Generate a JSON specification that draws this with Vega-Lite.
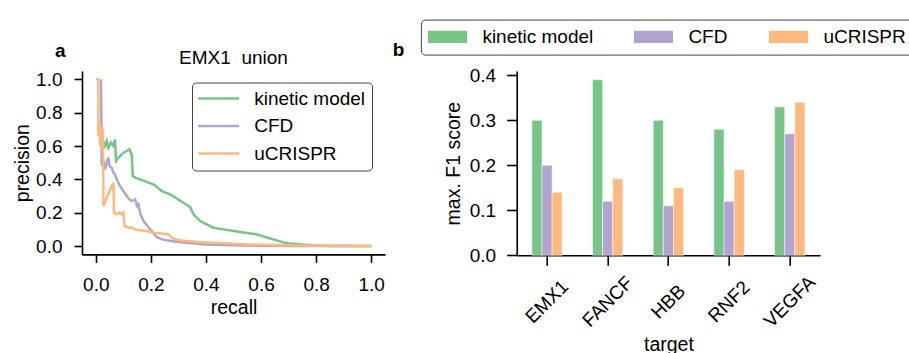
{
  "$schema": "https://vega.github.io/schema/vega-lite/v6.json",
  "padding": {"left": 12, "top": 19, "right": 0, "bottom": 0},
  "background": "white",
  "title": {"text": "a", "anchor": "start", "frame": "group", "dx": -27, "dy": 73, "fontSize": 19, "fontWeight": "bold", "offset": 16, "baseline": "alphabetic", "font": "Liberation Sans", "color": "black"},
  "config": {
    "font": "Liberation Sans",
    "view": {"stroke": null},
    "axis": {"domainColor": "black", "domainWidth": 1.6, "tickColor": "black", "tickWidth": 1.6, "labelColor": "black", "titleColor": "black", "labelFontSize": 19, "titleFontSize": 19.5, "titleFontWeight": "normal", "grid": false, "labelOverlap": false, "labelFont": "Liberation Sans", "titleFont": "Liberation Sans"},
    "axisY": {"labelOverlap": false},
    "legend": {"labelFont": "Liberation Sans", "labelFontSize": 19, "labelColor": "black"},
    "title": {"font": "Liberation Sans", "color": "black"}
  },
  "spacing": 131.7,
  "bounds": "flush",
  "resolve": {"scale": {"color": "independent"}, "legend": {"color": "independent"}},
  "hconcat": [
    {
      "width": 303,
      "height": 183.4,
      "title": {"text": "EMX1\u00a0\u00a0union", "fontSize": 19, "fontWeight": "normal", "anchor": "middle", "frame": "group", "offset": 8, "dy": 21, "baseline": "alphabetic"},
      "data": {"values": [
        {"model": "kinetic model", "recall": 0.0217, "precision": 0.50},
        {"model": "kinetic model", "recall": 0.0277, "precision": 0.63},
        {"model": "kinetic model", "recall": 0.0338, "precision": 0.60},
        {"model": "kinetic model", "recall": 0.0398, "precision": 0.63},
        {"model": "kinetic model", "recall": 0.0459, "precision": 0.59},
        {"model": "kinetic model", "recall": 0.0544, "precision": 0.62},
        {"model": "kinetic model", "recall": 0.064, "precision": 0.60},
        {"model": "kinetic model", "recall": 0.070, "precision": 0.64},
        {"model": "kinetic model", "recall": 0.0737, "precision": 0.50},
        {"model": "kinetic model", "recall": 0.0762, "precision": 0.52},
        {"model": "kinetic model", "recall": 0.0883, "precision": 0.54},
        {"model": "kinetic model", "recall": 0.1004, "precision": 0.56},
        {"model": "kinetic model", "recall": 0.1125, "precision": 0.57},
        {"model": "kinetic model", "recall": 0.122, "precision": 0.58},
        {"model": "kinetic model", "recall": 0.1307, "precision": 0.55},
        {"model": "kinetic model", "recall": 0.1343, "precision": 0.42},
        {"model": "kinetic model", "recall": 0.1428, "precision": 0.41},
        {"model": "kinetic model", "recall": 0.161, "precision": 0.40},
        {"model": "kinetic model", "recall": 0.185, "precision": 0.385},
        {"model": "kinetic model", "recall": 0.209, "precision": 0.37},
        {"model": "kinetic model", "recall": 0.2215, "precision": 0.355},
        {"model": "kinetic model", "recall": 0.2396, "precision": 0.33},
        {"model": "kinetic model", "recall": 0.27, "precision": 0.31},
        {"model": "kinetic model", "recall": 0.294, "precision": 0.285},
        {"model": "kinetic model", "recall": 0.318, "precision": 0.26},
        {"model": "kinetic model", "recall": 0.3425, "precision": 0.235},
        {"model": "kinetic model", "recall": 0.3547, "precision": 0.19},
        {"model": "kinetic model", "recall": 0.379, "precision": 0.15},
        {"model": "kinetic model", "recall": 0.403, "precision": 0.13},
        {"model": "kinetic model", "recall": 0.427, "precision": 0.11},
        {"model": "kinetic model", "recall": 0.4636, "precision": 0.10},
        {"model": "kinetic model", "recall": 0.524, "precision": 0.085},
        {"model": "kinetic model", "recall": 0.585, "precision": 0.07},
        {"model": "kinetic model", "recall": 0.633, "precision": 0.045},
        {"model": "kinetic model", "recall": 0.6816, "precision": 0.022},
        {"model": "kinetic model", "recall": 0.706, "precision": 0.015},
        {"model": "kinetic model", "recall": 0.75, "precision": 0.01},
        {"model": "kinetic model", "recall": 0.8, "precision": 0.004},
        {"model": "kinetic model", "recall": 0.85, "precision": 0.001},
        {"model": "kinetic model", "recall": 1.0, "precision": 0.0},
        {"model": "CFD", "recall": 0.019, "precision": 1.0},
        {"model": "CFD", "recall": 0.022, "precision": 0.48},
        {"model": "CFD", "recall": 0.028, "precision": 0.51},
        {"model": "CFD", "recall": 0.034, "precision": 0.46},
        {"model": "CFD", "recall": 0.04, "precision": 0.50},
        {"model": "CFD", "recall": 0.046, "precision": 0.53},
        {"model": "CFD", "recall": 0.05, "precision": 0.48},
        {"model": "CFD", "recall": 0.058, "precision": 0.47},
        {"model": "CFD", "recall": 0.064, "precision": 0.44},
        {"model": "CFD", "recall": 0.07, "precision": 0.43},
        {"model": "CFD", "recall": 0.076, "precision": 0.40},
        {"model": "CFD", "recall": 0.088, "precision": 0.36},
        {"model": "CFD", "recall": 0.1, "precision": 0.33},
        {"model": "CFD", "recall": 0.113, "precision": 0.30},
        {"model": "CFD", "recall": 0.122, "precision": 0.28},
        {"model": "CFD", "recall": 0.131, "precision": 0.27},
        {"model": "CFD", "recall": 0.143, "precision": 0.28},
        {"model": "CFD", "recall": 0.15, "precision": 0.24},
        {"model": "CFD", "recall": 0.155, "precision": 0.25},
        {"model": "CFD", "recall": 0.162, "precision": 0.19},
        {"model": "CFD", "recall": 0.174, "precision": 0.15},
        {"model": "CFD", "recall": 0.192, "precision": 0.11},
        {"model": "CFD", "recall": 0.204, "precision": 0.09},
        {"model": "CFD", "recall": 0.22, "precision": 0.055},
        {"model": "CFD", "recall": 0.24, "precision": 0.04},
        {"model": "CFD", "recall": 0.257, "precision": 0.035},
        {"model": "CFD", "recall": 0.3, "precision": 0.025},
        {"model": "CFD", "recall": 0.34, "precision": 0.018},
        {"model": "CFD", "recall": 0.4, "precision": 0.01},
        {"model": "CFD", "recall": 0.5, "precision": 0.005},
        {"model": "CFD", "recall": 0.6, "precision": 0.002},
        {"model": "CFD", "recall": 0.7, "precision": 0.001},
        {"model": "CFD", "recall": 0.85, "precision": 0.0},
        {"model": "CFD", "recall": 1.0, "precision": 0.0},
        {"model": "uCRISPR", "recall": 0.0, "precision": 1.0},
        {"model": "uCRISPR", "recall": 0.0095, "precision": 1.0},
        {"model": "uCRISPR", "recall": 0.0097, "precision": 0.66},
        {"model": "uCRISPR", "recall": 0.013, "precision": 0.75},
        {"model": "uCRISPR", "recall": 0.016, "precision": 0.60},
        {"model": "uCRISPR", "recall": 0.02, "precision": 0.72},
        {"model": "uCRISPR", "recall": 0.024, "precision": 0.64},
        {"model": "uCRISPR", "recall": 0.026, "precision": 0.70},
        {"model": "uCRISPR", "recall": 0.028, "precision": 0.24},
        {"model": "uCRISPR", "recall": 0.04, "precision": 0.29},
        {"model": "uCRISPR", "recall": 0.05, "precision": 0.33},
        {"model": "uCRISPR", "recall": 0.064, "precision": 0.38},
        {"model": "uCRISPR", "recall": 0.066, "precision": 0.20},
        {"model": "uCRISPR", "recall": 0.075, "precision": 0.19},
        {"model": "uCRISPR", "recall": 0.085, "precision": 0.20},
        {"model": "uCRISPR", "recall": 0.095, "precision": 0.19},
        {"model": "uCRISPR", "recall": 0.1, "precision": 0.20},
        {"model": "uCRISPR", "recall": 0.105, "precision": 0.12},
        {"model": "uCRISPR", "recall": 0.12, "precision": 0.11},
        {"model": "uCRISPR", "recall": 0.135, "precision": 0.11},
        {"model": "uCRISPR", "recall": 0.14, "precision": 0.10},
        {"model": "uCRISPR", "recall": 0.16, "precision": 0.095},
        {"model": "uCRISPR", "recall": 0.185, "precision": 0.09},
        {"model": "uCRISPR", "recall": 0.21, "precision": 0.08},
        {"model": "uCRISPR", "recall": 0.24, "precision": 0.075},
        {"model": "uCRISPR", "recall": 0.265, "precision": 0.07},
        {"model": "uCRISPR", "recall": 0.275, "precision": 0.05},
        {"model": "uCRISPR", "recall": 0.3, "precision": 0.035},
        {"model": "uCRISPR", "recall": 0.33, "precision": 0.03},
        {"model": "uCRISPR", "recall": 0.37, "precision": 0.025},
        {"model": "uCRISPR", "recall": 0.45, "precision": 0.018},
        {"model": "uCRISPR", "recall": 0.55, "precision": 0.01},
        {"model": "uCRISPR", "recall": 0.7, "precision": 0.005},
        {"model": "uCRISPR", "recall": 0.85, "precision": 0.002},
        {"model": "uCRISPR", "recall": 1.0, "precision": 0.0}
      ]},
      "mark": {"type": "line", "strokeWidth": 2.5},
      "encoding": {
        "x": {"field": "recall", "type": "quantitative", "scale": {"domain": [-0.05, 1.05], "nice": false, "zero": false},
              "axis": {"values": [0, 0.2, 0.4, 0.6, 0.8, 1.0], "format": ".1f", "tickSize": 8, "labelPadding": 13, "titlePadding": 4, "title": "recall", "labelFlush": false, "labelOverlap": false}},
        "y": {"field": "precision", "type": "quantitative", "scale": {"domain": [-0.05, 1.05], "nice": false, "zero": false},
              "axis": {"values": [0, 0.2, 0.4, 0.6, 0.8, 1.0], "format": ".1f", "tickSize": 8, "labelPadding": 12, "titlePadding": 3, "title": "precision", "labelFlush": false, "labelOverlap": false, "labelBound": false}},
        "color": {"field": "model", "type": "nominal",
                  "scale": {"domain": ["kinetic model", "CFD", "uCRISPR"], "range": ["#77c488", "#b1a4d1", "#fdb97e"]},
                  "legend": {"orient": "none", "legendX": 110, "legendY": 11.5, "title": null, "symbolType": "M-4,0H4", "symbolSize": 105, "symbolStrokeWidth": 2.5, "symbolOffset": 10.7, "labelOffset": 26, "rowPadding": 7.5, "padding": 6.5, "strokeColor": "#444444", "cornerRadius": 4, "fillColor": "white", "labelFontSize": 19}}
      }
    },
    {
      "width": 303.4,
      "height": 184.3,
      "title": {"text": "b", "anchor": "start", "frame": "group", "dx": -124, "dy": 72, "fontSize": 19, "fontWeight": "bold", "offset": 16, "baseline": "alphabetic"},
      "data": {"values": [
        {"target": "EMX1", "model": "kinetic model", "score": 0.30},
        {"target": "EMX1", "model": "CFD", "score": 0.20},
        {"target": "EMX1", "model": "uCRISPR", "score": 0.14},
        {"target": "FANCF", "model": "kinetic model", "score": 0.39},
        {"target": "FANCF", "model": "CFD", "score": 0.12},
        {"target": "FANCF", "model": "uCRISPR", "score": 0.17},
        {"target": "HBB", "model": "kinetic model", "score": 0.30},
        {"target": "HBB", "model": "CFD", "score": 0.11},
        {"target": "HBB", "model": "uCRISPR", "score": 0.15},
        {"target": "RNF2", "model": "kinetic model", "score": 0.28},
        {"target": "RNF2", "model": "CFD", "score": 0.12},
        {"target": "RNF2", "model": "uCRISPR", "score": 0.19},
        {"target": "VEGFA", "model": "kinetic model", "score": 0.33},
        {"target": "VEGFA", "model": "CFD", "score": 0.27},
        {"target": "VEGFA", "model": "uCRISPR", "score": 0.34}
      ]},
      "mark": {"type": "bar", "stroke": "white", "strokeWidth": 0.5},
      "encoding": {
        "x": {"field": "target", "type": "nominal", "sort": ["EMX1", "FANCF", "HBB", "RNF2", "VEGFA"], "scale": {"paddingInner": 0.5, "paddingOuter": 0.25},
              "axis": {"labelAngle": -45, "labelAlign": "center", "labelBaseline": "middle", "tickSize": 10, "labelPadding": 36, "title": "target", "titlePadding": 5}},
        "xOffset": {"field": "model", "type": "nominal", "sort": ["kinetic model", "CFD", "uCRISPR"], "scale": {"paddingInner": 0, "paddingOuter": 0}},
        "y": {"field": "score", "type": "quantitative", "scale": {"domain": [0, 0.4095], "nice": false},
              "axis": {"values": [0, 0.1, 0.2, 0.3, 0.4], "format": ".1f", "tickSize": 10, "labelPadding": 11, "title": "max. F1 score", "titlePadding": 6, "labelOverlap": false}},
        "color": {"field": "model", "type": "nominal",
                  "scale": {"domain": ["kinetic model", "CFD", "uCRISPR"], "range": ["#77c488", "#b1a4d1", "#fdb97e"]},
                  "legend": {"orient": "none", "legendX": -95.8, "legendY": -51.4, "direction": "horizontal", "columns": 3, "title": null, "symbolType": "M-3,-0.95H3V0.95H-3Z", "symbolSize": 169, "symbolStrokeWidth": 0, "symbolOffset": 9.6, "labelOffset": 25.4, "columnPadding": 40, "padding": 7.5, "strokeColor": "#444444", "cornerRadius": 4, "fillColor": "white", "labelFontSize": 19}}
      }
    }
  ]
}
